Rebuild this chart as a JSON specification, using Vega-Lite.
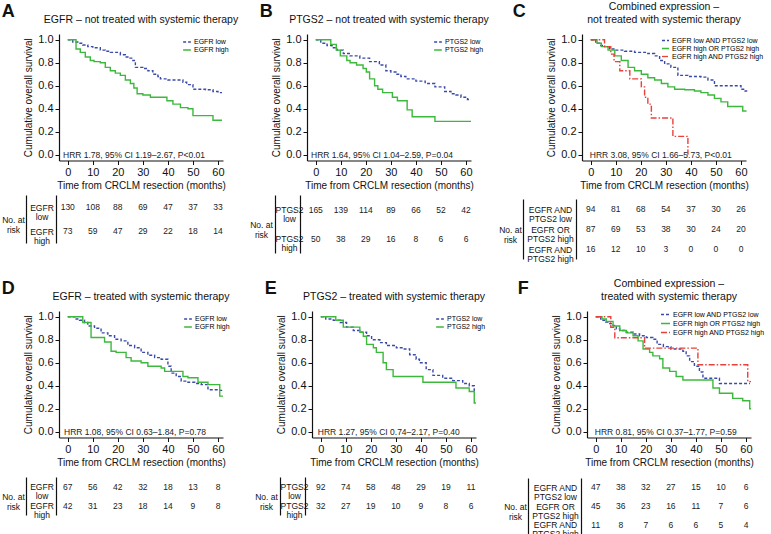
{
"$schema": "https://vega.github.io/schema/vega-lite/v6.json",
"padding": {"left": 1, "top": 1, "right": 0, "bottom": 0},
"config": {
 "font": "Liberation Sans",
 "view": {"stroke": null},
 "axis": {"domainColor": "#111", "tickColor": "#111", "labelColor": "#111", "titleColor": "#111", "grid": false, "titleFontWeight": "normal", "labelOverlap": false},
 "title": {"fontWeight": "normal", "color": "#111"},
 "text": {"color": "#222"}
},
"datasets": {
 "kmA": [
  {"t":0,"s":1,"g":"EGFR low"},{"t":2,"s":0.98,"g":"EGFR low"},{"t":4,"s":0.97,"g":"EGFR low"},{"t":6,"s":0.955,"g":"EGFR low"},{"t":8,"s":0.94,"g":"EGFR low"},{"t":10,"s":0.93,"g":"EGFR low"},{"t":13,"s":0.91,"g":"EGFR low"},{"t":15,"s":0.9,"g":"EGFR low"},{"t":17,"s":0.89,"g":"EGFR low"},{"t":21,"s":0.87,"g":"EGFR low"},{"t":23,"s":0.85,"g":"EGFR low"},{"t":24,"s":0.84,"g":"EGFR low"},{"t":26,"s":0.82,"g":"EGFR low"},{"t":27,"s":0.76,"g":"EGFR low"},{"t":30,"s":0.75,"g":"EGFR low"},{"t":32,"s":0.73,"g":"EGFR low"},{"t":34,"s":0.7,"g":"EGFR low"},{"t":36,"s":0.68,"g":"EGFR low"},{"t":37,"s":0.66,"g":"EGFR low"},{"t":40,"s":0.65,"g":"EGFR low"},{"t":46,"s":0.63,"g":"EGFR low"},{"t":47.5,"s":0.61,"g":"EGFR low"},{"t":50,"s":0.57,"g":"EGFR low"},{"t":55,"s":0.565,"g":"EGFR low"},{"t":58,"s":0.55,"g":"EGFR low"},{"t":60,"s":0.54,"g":"EGFR low"},{"t":61.6,"s":0.54,"g":"EGFR low"},
  {"t":0,"s":1,"g":"EGFR high"},{"t":3.3,"s":0.92,"g":"EGFR high"},{"t":5,"s":0.89,"g":"EGFR high"},{"t":7,"s":0.85,"g":"EGFR high"},{"t":9,"s":0.82,"g":"EGFR high"},{"t":10.5,"s":0.81,"g":"EGFR high"},{"t":13,"s":0.8,"g":"EGFR high"},{"t":15,"s":0.76,"g":"EGFR high"},{"t":17,"s":0.73,"g":"EGFR high"},{"t":19,"s":0.71,"g":"EGFR high"},{"t":21,"s":0.69,"g":"EGFR high"},{"t":23,"s":0.65,"g":"EGFR high"},{"t":25,"s":0.62,"g":"EGFR high"},{"t":26.4,"s":0.58,"g":"EGFR high"},{"t":27.7,"s":0.53,"g":"EGFR high"},{"t":30,"s":0.52,"g":"EGFR high"},{"t":33,"s":0.5,"g":"EGFR high"},{"t":39.6,"s":0.47,"g":"EGFR high"},{"t":42,"s":0.44,"g":"EGFR high"},{"t":45,"s":0.41,"g":"EGFR high"},{"t":48,"s":0.4,"g":"EGFR high"},{"t":50,"s":0.34,"g":"EGFR high"},{"t":58,"s":0.3,"g":"EGFR high"},{"t":61.6,"s":0.3,"g":"EGFR high"}
 ],
 "kmB": [
  {"t":0,"s":1,"g":"PTGS2 low"},{"t":2,"s":0.97,"g":"PTGS2 low"},{"t":4.5,"s":0.95,"g":"PTGS2 low"},{"t":6.5,"s":0.93,"g":"PTGS2 low"},{"t":8.5,"s":0.91,"g":"PTGS2 low"},{"t":11,"s":0.88,"g":"PTGS2 low"},{"t":13.7,"s":0.86,"g":"PTGS2 low"},{"t":17.6,"s":0.84,"g":"PTGS2 low"},{"t":21.5,"s":0.81,"g":"PTGS2 low"},{"t":25.4,"s":0.78,"g":"PTGS2 low"},{"t":28,"s":0.73,"g":"PTGS2 low"},{"t":30,"s":0.72,"g":"PTGS2 low"},{"t":32,"s":0.7,"g":"PTGS2 low"},{"t":34,"s":0.68,"g":"PTGS2 low"},{"t":36,"s":0.66,"g":"PTGS2 low"},{"t":40,"s":0.64,"g":"PTGS2 low"},{"t":43.7,"s":0.62,"g":"PTGS2 low"},{"t":47.6,"s":0.59,"g":"PTGS2 low"},{"t":51.5,"s":0.55,"g":"PTGS2 low"},{"t":54,"s":0.53,"g":"PTGS2 low"},{"t":56,"s":0.52,"g":"PTGS2 low"},{"t":58,"s":0.5,"g":"PTGS2 low"},{"t":60.6,"s":0.48,"g":"PTGS2 low"},{"t":62,"s":0.48,"g":"PTGS2 low"},
  {"t":0,"s":1,"g":"PTGS2 high"},{"t":6,"s":0.96,"g":"PTGS2 high"},{"t":8.2,"s":0.91,"g":"PTGS2 high"},{"t":9.8,"s":0.86,"g":"PTGS2 high"},{"t":12.4,"s":0.82,"g":"PTGS2 high"},{"t":13.7,"s":0.8,"g":"PTGS2 high"},{"t":16.3,"s":0.78,"g":"PTGS2 high"},{"t":18.9,"s":0.75,"g":"PTGS2 high"},{"t":20.2,"s":0.72,"g":"PTGS2 high"},{"t":21.5,"s":0.66,"g":"PTGS2 high"},{"t":23.5,"s":0.6,"g":"PTGS2 high"},{"t":24.8,"s":0.57,"g":"PTGS2 high"},{"t":26.7,"s":0.54,"g":"PTGS2 high"},{"t":30.6,"s":0.5,"g":"PTGS2 high"},{"t":32.6,"s":0.47,"g":"PTGS2 high"},{"t":36.5,"s":0.39,"g":"PTGS2 high"},{"t":38.5,"s":0.33,"g":"PTGS2 high"},{"t":47.6,"s":0.29,"g":"PTGS2 high"},{"t":62,"s":0.29,"g":"PTGS2 high"}
 ],
 "kmC": [
  {"t":0,"s":1,"g":"EGFR low AND PTGS2 low"},{"t":2,"s":0.97,"g":"EGFR low AND PTGS2 low"},{"t":4,"s":0.95,"g":"EGFR low AND PTGS2 low"},{"t":5.6,"s":0.94,"g":"EGFR low AND PTGS2 low"},{"t":7.5,"s":0.92,"g":"EGFR low AND PTGS2 low"},{"t":9.6,"s":0.91,"g":"EGFR low AND PTGS2 low"},{"t":13.5,"s":0.9,"g":"EGFR low AND PTGS2 low"},{"t":17.5,"s":0.89,"g":"EGFR low AND PTGS2 low"},{"t":22.8,"s":0.88,"g":"EGFR low AND PTGS2 low"},{"t":25.5,"s":0.86,"g":"EGFR low AND PTGS2 low"},{"t":27.5,"s":0.82,"g":"EGFR low AND PTGS2 low"},{"t":29.5,"s":0.79,"g":"EGFR low AND PTGS2 low"},{"t":32,"s":0.76,"g":"EGFR low AND PTGS2 low"},{"t":34.8,"s":0.69,"g":"EGFR low AND PTGS2 low"},{"t":38.8,"s":0.68,"g":"EGFR low AND PTGS2 low"},{"t":44,"s":0.675,"g":"EGFR low AND PTGS2 low"},{"t":46.8,"s":0.65,"g":"EGFR low AND PTGS2 low"},{"t":49.4,"s":0.6,"g":"EGFR low AND PTGS2 low"},{"t":58.7,"s":0.6,"g":"EGFR low AND PTGS2 low"},{"t":60,"s":0.57,"g":"EGFR low AND PTGS2 low"},{"t":61.6,"s":0.555,"g":"EGFR low AND PTGS2 low"},{"t":62.5,"s":0.555,"g":"EGFR low AND PTGS2 low"},
  {"t":0,"s":1,"g":"EGFR high OR PTGS2 high"},{"t":2.5,"s":0.97,"g":"EGFR high OR PTGS2 high"},{"t":4.2,"s":0.94,"g":"EGFR high OR PTGS2 high"},{"t":6.9,"s":0.91,"g":"EGFR high OR PTGS2 high"},{"t":9.6,"s":0.86,"g":"EGFR high OR PTGS2 high"},{"t":12.2,"s":0.82,"g":"EGFR high OR PTGS2 high"},{"t":14.9,"s":0.76,"g":"EGFR high OR PTGS2 high"},{"t":17.5,"s":0.73,"g":"EGFR high OR PTGS2 high"},{"t":20.2,"s":0.7,"g":"EGFR high OR PTGS2 high"},{"t":22.8,"s":0.67,"g":"EGFR high OR PTGS2 high"},{"t":25.5,"s":0.65,"g":"EGFR high OR PTGS2 high"},{"t":28.2,"s":0.62,"g":"EGFR high OR PTGS2 high"},{"t":30.8,"s":0.59,"g":"EGFR high OR PTGS2 high"},{"t":33.5,"s":0.57,"g":"EGFR high OR PTGS2 high"},{"t":37.5,"s":0.565,"g":"EGFR high OR PTGS2 high"},{"t":41.4,"s":0.555,"g":"EGFR high OR PTGS2 high"},{"t":44,"s":0.54,"g":"EGFR high OR PTGS2 high"},{"t":46.8,"s":0.52,"g":"EGFR high OR PTGS2 high"},{"t":49.4,"s":0.49,"g":"EGFR high OR PTGS2 high"},{"t":52,"s":0.46,"g":"EGFR high OR PTGS2 high"},{"t":54.7,"s":0.42,"g":"EGFR high OR PTGS2 high"},{"t":58.7,"s":0.42,"g":"EGFR high OR PTGS2 high"},{"t":60.7,"s":0.38,"g":"EGFR high OR PTGS2 high"},{"t":62.2,"s":0.38,"g":"EGFR high OR PTGS2 high"},
  {"t":0,"s":1,"g":"EGFR high AND PTGS2 high"},{"t":5.5,"s":0.94,"g":"EGFR high AND PTGS2 high"},{"t":8,"s":0.875,"g":"EGFR high AND PTGS2 high"},{"t":9.3,"s":0.81,"g":"EGFR high AND PTGS2 high"},{"t":11.6,"s":0.73,"g":"EGFR high AND PTGS2 high"},{"t":15.6,"s":0.66,"g":"EGFR high AND PTGS2 high"},{"t":20.2,"s":0.59,"g":"EGFR high AND PTGS2 high"},{"t":21.5,"s":0.5,"g":"EGFR high AND PTGS2 high"},{"t":22.8,"s":0.44,"g":"EGFR high AND PTGS2 high"},{"t":24.2,"s":0.32,"g":"EGFR high AND PTGS2 high"},{"t":32.8,"s":0.16,"g":"EGFR high AND PTGS2 high"},{"t":38.8,"s":0,"g":"EGFR high AND PTGS2 high"}
 ],
 "kmD": [
  {"t":0,"s":1,"g":"EGFR low"},{"t":3,"s":0.98,"g":"EGFR low"},{"t":4.7,"s":0.97,"g":"EGFR low"},{"t":6.7,"s":0.95,"g":"EGFR low"},{"t":8,"s":0.92,"g":"EGFR low"},{"t":10.7,"s":0.9,"g":"EGFR low"},{"t":13.3,"s":0.86,"g":"EGFR low"},{"t":16,"s":0.835,"g":"EGFR low"},{"t":18.7,"s":0.805,"g":"EGFR low"},{"t":21.3,"s":0.79,"g":"EGFR low"},{"t":24,"s":0.75,"g":"EGFR low"},{"t":26.7,"s":0.73,"g":"EGFR low"},{"t":29.3,"s":0.69,"g":"EGFR low"},{"t":32,"s":0.665,"g":"EGFR low"},{"t":34.7,"s":0.645,"g":"EGFR low"},{"t":37.3,"s":0.63,"g":"EGFR low"},{"t":40,"s":0.57,"g":"EGFR low"},{"t":41.3,"s":0.51,"g":"EGFR low"},{"t":43.3,"s":0.48,"g":"EGFR low"},{"t":45.3,"s":0.44,"g":"EGFR low"},{"t":48,"s":0.43,"g":"EGFR low"},{"t":50.7,"s":0.42,"g":"EGFR low"},{"t":53.3,"s":0.41,"g":"EGFR low"},{"t":56,"s":0.365,"g":"EGFR low"},{"t":60,"s":0.36,"g":"EGFR low"},{"t":62,"s":0.35,"g":"EGFR low"},
  {"t":0,"s":1,"g":"EGFR high"},{"t":6,"s":0.95,"g":"EGFR high"},{"t":9.3,"s":0.82,"g":"EGFR high"},{"t":14.7,"s":0.78,"g":"EGFR high"},{"t":17.3,"s":0.7,"g":"EGFR high"},{"t":19.3,"s":0.69,"g":"EGFR high"},{"t":23.3,"s":0.645,"g":"EGFR high"},{"t":25.3,"s":0.615,"g":"EGFR high"},{"t":29.3,"s":0.6,"g":"EGFR high"},{"t":32,"s":0.57,"g":"EGFR high"},{"t":37.3,"s":0.555,"g":"EGFR high"},{"t":38.7,"s":0.525,"g":"EGFR high"},{"t":46,"s":0.48,"g":"EGFR high"},{"t":48,"s":0.47,"g":"EGFR high"},{"t":52,"s":0.43,"g":"EGFR high"},{"t":56,"s":0.41,"g":"EGFR high"},{"t":60.7,"s":0.31,"g":"EGFR high"},{"t":62,"s":0.31,"g":"EGFR high"}
 ],
 "kmE": [
  {"t":0,"s":1,"g":"PTGS2 low"},{"t":2,"s":0.98,"g":"PTGS2 low"},{"t":5,"s":0.97,"g":"PTGS2 low"},{"t":7.7,"s":0.95,"g":"PTGS2 low"},{"t":10.3,"s":0.91,"g":"PTGS2 low"},{"t":13,"s":0.88,"g":"PTGS2 low"},{"t":15.6,"s":0.865,"g":"PTGS2 low"},{"t":18.3,"s":0.835,"g":"PTGS2 low"},{"t":20.3,"s":0.8,"g":"PTGS2 low"},{"t":23.6,"s":0.775,"g":"PTGS2 low"},{"t":26.2,"s":0.75,"g":"PTGS2 low"},{"t":30.2,"s":0.73,"g":"PTGS2 low"},{"t":32.8,"s":0.72,"g":"PTGS2 low"},{"t":35.5,"s":0.67,"g":"PTGS2 low"},{"t":38.1,"s":0.63,"g":"PTGS2 low"},{"t":39.4,"s":0.6,"g":"PTGS2 low"},{"t":42.1,"s":0.54,"g":"PTGS2 low"},{"t":44.8,"s":0.49,"g":"PTGS2 low"},{"t":48.7,"s":0.465,"g":"PTGS2 low"},{"t":52.7,"s":0.445,"g":"PTGS2 low"},{"t":56.7,"s":0.42,"g":"PTGS2 low"},{"t":59.3,"s":0.4,"g":"PTGS2 low"},{"t":61.3,"s":0.35,"g":"PTGS2 low"},{"t":62,"s":0.35,"g":"PTGS2 low"},
  {"t":0,"s":1,"g":"PTGS2 high"},{"t":6,"s":0.97,"g":"PTGS2 high"},{"t":9,"s":0.91,"g":"PTGS2 high"},{"t":15.6,"s":0.865,"g":"PTGS2 high"},{"t":17,"s":0.83,"g":"PTGS2 high"},{"t":18.3,"s":0.76,"g":"PTGS2 high"},{"t":21,"s":0.73,"g":"PTGS2 high"},{"t":22.2,"s":0.69,"g":"PTGS2 high"},{"t":24.9,"s":0.6,"g":"PTGS2 high"},{"t":26.2,"s":0.54,"g":"PTGS2 high"},{"t":28.9,"s":0.48,"g":"PTGS2 high"},{"t":40.8,"s":0.43,"g":"PTGS2 high"},{"t":54,"s":0.38,"g":"PTGS2 high"},{"t":59.3,"s":0.35,"g":"PTGS2 high"},{"t":61.3,"s":0.25,"g":"PTGS2 high"},{"t":62,"s":0.25,"g":"PTGS2 high"}
 ],
 "kmF": [
  {"t":0,"s":1,"g":"EGFR low AND PTGS2 low"},{"t":2,"s":0.97,"g":"EGFR low AND PTGS2 low"},{"t":4,"s":0.955,"g":"EGFR low AND PTGS2 low"},{"t":5.6,"s":0.94,"g":"EGFR low AND PTGS2 low"},{"t":6.9,"s":0.925,"g":"EGFR low AND PTGS2 low"},{"t":8.2,"s":0.895,"g":"EGFR low AND PTGS2 low"},{"t":9.6,"s":0.88,"g":"EGFR low AND PTGS2 low"},{"t":12.2,"s":0.865,"g":"EGFR low AND PTGS2 low"},{"t":14.9,"s":0.85,"g":"EGFR low AND PTGS2 low"},{"t":17.5,"s":0.835,"g":"EGFR low AND PTGS2 low"},{"t":20.2,"s":0.82,"g":"EGFR low AND PTGS2 low"},{"t":22.8,"s":0.805,"g":"EGFR low AND PTGS2 low"},{"t":24.5,"s":0.76,"g":"EGFR low AND PTGS2 low"},{"t":27,"s":0.74,"g":"EGFR low AND PTGS2 low"},{"t":30,"s":0.72,"g":"EGFR low AND PTGS2 low"},{"t":34.8,"s":0.7,"g":"EGFR low AND PTGS2 low"},{"t":36.1,"s":0.66,"g":"EGFR low AND PTGS2 low"},{"t":37.5,"s":0.61,"g":"EGFR low AND PTGS2 low"},{"t":39.4,"s":0.57,"g":"EGFR low AND PTGS2 low"},{"t":41.4,"s":0.52,"g":"EGFR low AND PTGS2 low"},{"t":42.8,"s":0.465,"g":"EGFR low AND PTGS2 low"},{"t":49.4,"s":0.42,"g":"EGFR low AND PTGS2 low"},{"t":61.6,"s":0.42,"g":"EGFR low AND PTGS2 low"},
  {"t":0,"s":1,"g":"EGFR high OR PTGS2 high"},{"t":2.5,"s":0.98,"g":"EGFR high OR PTGS2 high"},{"t":4.2,"s":0.96,"g":"EGFR high OR PTGS2 high"},{"t":6.9,"s":0.92,"g":"EGFR high OR PTGS2 high"},{"t":9.6,"s":0.88,"g":"EGFR high OR PTGS2 high"},{"t":12.2,"s":0.86,"g":"EGFR high OR PTGS2 high"},{"t":14.9,"s":0.835,"g":"EGFR high OR PTGS2 high"},{"t":16.9,"s":0.79,"g":"EGFR high OR PTGS2 high"},{"t":18.9,"s":0.72,"g":"EGFR high OR PTGS2 high"},{"t":21.5,"s":0.69,"g":"EGFR high OR PTGS2 high"},{"t":22.8,"s":0.66,"g":"EGFR high OR PTGS2 high"},{"t":25.5,"s":0.635,"g":"EGFR high OR PTGS2 high"},{"t":26.8,"s":0.555,"g":"EGFR high OR PTGS2 high"},{"t":29.5,"s":0.525,"g":"EGFR high OR PTGS2 high"},{"t":32.1,"s":0.48,"g":"EGFR high OR PTGS2 high"},{"t":34.8,"s":0.45,"g":"EGFR high OR PTGS2 high"},{"t":46.8,"s":0.38,"g":"EGFR high OR PTGS2 high"},{"t":49.4,"s":0.335,"g":"EGFR high OR PTGS2 high"},{"t":54.7,"s":0.29,"g":"EGFR high OR PTGS2 high"},{"t":58.7,"s":0.27,"g":"EGFR high OR PTGS2 high"},{"t":61.5,"s":0.2,"g":"EGFR high OR PTGS2 high"},{"t":62,"s":0.2,"g":"EGFR high OR PTGS2 high"},
  {"t":0,"s":1,"g":"EGFR high AND PTGS2 high"},{"t":6,"s":0.909,"g":"EGFR high AND PTGS2 high"},{"t":7.6,"s":0.818,"g":"EGFR high AND PTGS2 high"},{"t":19.5,"s":0.727,"g":"EGFR high AND PTGS2 high"},{"t":40.8,"s":0.582,"g":"EGFR high AND PTGS2 high"},{"t":60.7,"s":0.436,"g":"EGFR high AND PTGS2 high"},{"t":62,"s":0.436,"g":"EGFR high AND PTGS2 high"}
 ],
 "riskA": [
  {"t":0,"n":130,"g":"EGFR low"},{"t":10,"n":108,"g":"EGFR low"},{"t":20,"n":88,"g":"EGFR low"},{"t":30,"n":69,"g":"EGFR low"},{"t":40,"n":47,"g":"EGFR low"},{"t":50,"n":37,"g":"EGFR low"},{"t":60,"n":33,"g":"EGFR low"},
  {"t":0,"n":73,"g":"EGFR high"},{"t":10,"n":59,"g":"EGFR high"},{"t":20,"n":47,"g":"EGFR high"},{"t":30,"n":29,"g":"EGFR high"},{"t":40,"n":22,"g":"EGFR high"},{"t":50,"n":18,"g":"EGFR high"},{"t":60,"n":14,"g":"EGFR high"}
 ],
 "riskB": [
  {"t":0,"n":165,"g":"PTGS2 low"},{"t":10,"n":139,"g":"PTGS2 low"},{"t":20,"n":114,"g":"PTGS2 low"},{"t":30,"n":89,"g":"PTGS2 low"},{"t":40,"n":66,"g":"PTGS2 low"},{"t":50,"n":52,"g":"PTGS2 low"},{"t":60,"n":42,"g":"PTGS2 low"},
  {"t":0,"n":50,"g":"PTGS2 high"},{"t":10,"n":38,"g":"PTGS2 high"},{"t":20,"n":29,"g":"PTGS2 high"},{"t":30,"n":16,"g":"PTGS2 high"},{"t":40,"n":8,"g":"PTGS2 high"},{"t":50,"n":6,"g":"PTGS2 high"},{"t":60,"n":6,"g":"PTGS2 high"}
 ],
 "riskC": [
  {"t":0,"n":94,"g":"EGFR AND PTGS2 low"},{"t":10,"n":81,"g":"EGFR AND PTGS2 low"},{"t":20,"n":68,"g":"EGFR AND PTGS2 low"},{"t":30,"n":54,"g":"EGFR AND PTGS2 low"},{"t":40,"n":37,"g":"EGFR AND PTGS2 low"},{"t":50,"n":30,"g":"EGFR AND PTGS2 low"},{"t":60,"n":26,"g":"EGFR AND PTGS2 low"},
  {"t":0,"n":87,"g":"EGFR OR PTGS2 high"},{"t":10,"n":69,"g":"EGFR OR PTGS2 high"},{"t":20,"n":53,"g":"EGFR OR PTGS2 high"},{"t":30,"n":38,"g":"EGFR OR PTGS2 high"},{"t":40,"n":30,"g":"EGFR OR PTGS2 high"},{"t":50,"n":24,"g":"EGFR OR PTGS2 high"},{"t":60,"n":20,"g":"EGFR OR PTGS2 high"},
  {"t":0,"n":16,"g":"EGFR AND PTGS2 high"},{"t":10,"n":12,"g":"EGFR AND PTGS2 high"},{"t":20,"n":10,"g":"EGFR AND PTGS2 high"},{"t":30,"n":3,"g":"EGFR AND PTGS2 high"},{"t":40,"n":0,"g":"EGFR AND PTGS2 high"},{"t":50,"n":0,"g":"EGFR AND PTGS2 high"},{"t":60,"n":0,"g":"EGFR AND PTGS2 high"}
 ],
 "riskD": [
  {"t":0,"n":67,"g":"EGFR low"},{"t":10,"n":56,"g":"EGFR low"},{"t":20,"n":42,"g":"EGFR low"},{"t":30,"n":32,"g":"EGFR low"},{"t":40,"n":18,"g":"EGFR low"},{"t":50,"n":13,"g":"EGFR low"},{"t":60,"n":8,"g":"EGFR low"},
  {"t":0,"n":42,"g":"EGFR high"},{"t":10,"n":31,"g":"EGFR high"},{"t":20,"n":23,"g":"EGFR high"},{"t":30,"n":18,"g":"EGFR high"},{"t":40,"n":14,"g":"EGFR high"},{"t":50,"n":9,"g":"EGFR high"},{"t":60,"n":8,"g":"EGFR high"}
 ],
 "riskE": [
  {"t":0,"n":92,"g":"PTGS2 low"},{"t":10,"n":74,"g":"PTGS2 low"},{"t":20,"n":58,"g":"PTGS2 low"},{"t":30,"n":48,"g":"PTGS2 low"},{"t":40,"n":29,"g":"PTGS2 low"},{"t":50,"n":19,"g":"PTGS2 low"},{"t":60,"n":11,"g":"PTGS2 low"},
  {"t":0,"n":32,"g":"PTGS2 high"},{"t":10,"n":27,"g":"PTGS2 high"},{"t":20,"n":19,"g":"PTGS2 high"},{"t":30,"n":10,"g":"PTGS2 high"},{"t":40,"n":9,"g":"PTGS2 high"},{"t":50,"n":8,"g":"PTGS2 high"},{"t":60,"n":6,"g":"PTGS2 high"}
 ],
 "riskF": [
  {"t":0,"n":47,"g":"EGFR AND PTGS2 low"},{"t":10,"n":38,"g":"EGFR AND PTGS2 low"},{"t":20,"n":32,"g":"EGFR AND PTGS2 low"},{"t":30,"n":27,"g":"EGFR AND PTGS2 low"},{"t":40,"n":15,"g":"EGFR AND PTGS2 low"},{"t":50,"n":10,"g":"EGFR AND PTGS2 low"},{"t":60,"n":6,"g":"EGFR AND PTGS2 low"},
  {"t":0,"n":45,"g":"EGFR OR PTGS2 high"},{"t":10,"n":36,"g":"EGFR OR PTGS2 high"},{"t":20,"n":23,"g":"EGFR OR PTGS2 high"},{"t":30,"n":16,"g":"EGFR OR PTGS2 high"},{"t":40,"n":11,"g":"EGFR OR PTGS2 high"},{"t":50,"n":7,"g":"EGFR OR PTGS2 high"},{"t":60,"n":6,"g":"EGFR OR PTGS2 high"},
  {"t":0,"n":11,"g":"EGFR AND PTGS2 high"},{"t":10,"n":8,"g":"EGFR AND PTGS2 high"},{"t":20,"n":7,"g":"EGFR AND PTGS2 high"},{"t":30,"n":6,"g":"EGFR AND PTGS2 high"},{"t":40,"n":6,"g":"EGFR AND PTGS2 high"},{"t":50,"n":5,"g":"EGFR AND PTGS2 high"},{"t":60,"n":4,"g":"EGFR AND PTGS2 high"}
 ]
},
"spacing": 15,
"resolve": {"scale": {"color": "independent", "strokeDash": "independent"}},
"vconcat": [
 {"hconcat": [
  {"title": {"text": "A", "anchor": "start", "fontSize": 18, "fontWeight": "bold", "offset": -19, "frame": "bounds"},
   "bounds": "flush", "spacing": 34,
   "vconcat": [
    {"width": 164, "height": 126.5,
     "title": {"text": ["", "EGFR – not treated with systemic therapy"], "fontSize": 10.5, "lineHeight": 13, "offset": 8.5, "anchor": "middle"},
     "layer": [
      {"data": {"name": "kmA"}, "mark": {"type": "line", "interpolate": "step-after", "strokeWidth": 1.4},
       "encoding": {
        "x": {"field": "t", "type": "quantitative", "scale": {"domain": [-3.5, 62], "nice": false, "zero": false}, "axis": {"values": [0,10,20,30,40,50,60], "tickCount": 50, "labelOverlap": false, "title": "Time from CRCLM resection (months)", "labelFontSize": 11, "titleFontSize": 10, "tickSize": 4, "labelPadding": 2, "titlePadding": 3, "domainWidth": 1.2}},
        "y": {"field": "s", "type": "quantitative", "scale": {"domain": [-0.05, 1.05], "nice": false, "zero": false}, "axis": {"values": [0,0.2,0.4,0.6,0.8,1], "tickCount": 50, "labelOverlap": false, "format": ".1f", "title": "Cumulative overall survival", "labelFontSize": 11, "titleFontSize": 10, "tickSize": 4, "labelPadding": 2, "titlePadding": 4, "domainWidth": 1.2}},
        "color": {"field": "g", "type": "nominal", "scale": {"domain": ["EGFR low", "EGFR high"], "range": ["#3a4aa8", "#3cb93c"]}, "legend": {"title": null, "orient": "none", "legendX": 123, "legendY": 3, "symbolType": "stroke", "symbolSize": 60, "symbolStrokeWidth": 1.3, "labelFontSize": 7, "labelOffset": 2, "rowPadding": 0, "padding": 0}},
        "strokeDash": {"field": "g", "type": "nominal", "scale": {"domain": ["EGFR low", "EGFR high"], "range": [[3,2],[1,0]]}, "legend": {"title": null, "orient": "none", "legendX": 123, "legendY": 3, "symbolType": "stroke", "symbolSize": 60, "symbolStrokeWidth": 1.3, "labelFontSize": 7, "labelOffset": 2, "rowPadding": 0, "padding": 0}}
       }},
      {"data": {"values": [{"label": "HRR 1.78, 95%  CI 1.19–2.67, P<0.01"}]}, "mark": {"type": "text", "align": "left", "baseline": "middle", "fontSize": 8.5},
       "encoding": {"x": {"datum": -1.9, "type": "quantitative"}, "y": {"datum": 0, "type": "quantitative"}, "text": {"field": "label"}}}
     ]},
    {"width": 164, "height": 48, "data": {"name": "riskA"},
     "layer": [
      {"mark": {"type": "text", "fontSize": 8.5},
       "encoding": {
        "x": {"field": "t", "type": "quantitative", "scale": {"domain": [-3.5, 62], "nice": false, "zero": false}, "axis": null},
        "y": {"field": "g", "type": "nominal", "sort": ["EGFR low", "EGFR high"], "scale": {"paddingInner": 0, "paddingOuter": 0}, "axis": {"orient": "left", "title": null, "labelExpr": "split(datum.label, ' ')", "labelAlign": "center", "labelBaseline": "middle", "labelLineHeight": 9, "labelPadding": 14.5, "ticks": false, "tickSize": 0, "offset": 3, "domain": true, "domainWidth": 1.2, "labelFontSize": 8.5}},
        "text": {"field": "n"}}},
      {"mark": {"type": "text", "opacity": 0},
       "encoding": {
        "x": {"field": "t", "type": "quantitative"},
        "y": {"field": "g", "type": "nominal", "sort": ["EGFR low", "EGFR high"], "axis": {"orient": "left", "title": ["No. at", "risk"], "labels": false, "ticks": false, "tickSize": 0, "offset": 33, "domain": true, "domainWidth": 1.2, "titleAngle": 0, "titleAlign": "center", "titleBaseline": "middle", "titlePadding": 3, "titleFontSize": 8.5, "titleLineHeight": 10}},
        "text": {"field": "n"}}}
     ],
     "resolve": {"axis": {"y": "independent"}}}
   ]},
  {"hconcat": [
   {"title": {"text": "B", "anchor": "start", "fontSize": 18, "fontWeight": "bold", "offset": -19, "frame": "bounds", "dx": 10},
    "bounds": "flush", "spacing": 34,
    "vconcat": [
     {"width": 164, "height": 126.5,
      "title": {"text": ["", "PTGS2 – not treated with systemic therapy"], "fontSize": 10.5, "lineHeight": 13, "offset": 8.5, "anchor": "middle"},
      "layer": [
       {"data": {"name": "kmB"}, "mark": {"type": "line", "interpolate": "step-after", "strokeWidth": 1.4},
        "encoding": {
         "x": {"field": "t", "type": "quantitative", "scale": {"domain": [-3.5, 62], "nice": false, "zero": false}, "axis": {"values": [0,10,20,30,40,50,60], "tickCount": 50, "labelOverlap": false, "title": "Time from CRCLM resection (months)", "labelFontSize": 11, "titleFontSize": 10, "tickSize": 4, "labelPadding": 2, "titlePadding": 3, "domainWidth": 1.2}},
         "y": {"field": "s", "type": "quantitative", "scale": {"domain": [-0.05, 1.05], "nice": false, "zero": false}, "axis": {"values": [0,0.2,0.4,0.6,0.8,1], "tickCount": 50, "labelOverlap": false, "format": ".1f", "title": "Cumulative overall survival", "labelFontSize": 11, "titleFontSize": 10, "tickSize": 4, "labelPadding": 2, "titlePadding": 4, "domainWidth": 1.2}},
         "color": {"field": "g", "type": "nominal", "scale": {"domain": ["PTGS2 low", "PTGS2 high"], "range": ["#3a4aa8", "#3cb93c"]}, "legend": {"title": null, "orient": "none", "legendX": 126, "legendY": 3, "symbolType": "stroke", "symbolSize": 60, "symbolStrokeWidth": 1.3, "labelFontSize": 7, "labelOffset": 2, "rowPadding": 0, "padding": 0}},
         "strokeDash": {"field": "g", "type": "nominal", "scale": {"domain": ["PTGS2 low", "PTGS2 high"], "range": [[3,2],[1,0]]}, "legend": {"title": null, "orient": "none", "legendX": 126, "legendY": 3, "symbolType": "stroke", "symbolSize": 60, "symbolStrokeWidth": 1.3, "labelFontSize": 7, "labelOffset": 2, "rowPadding": 0, "padding": 0}}
        }},
       {"data": {"values": [{"label": "HRR 1.64, 95% CI 1.04–2.59, P=0.04"}]}, "mark": {"type": "text", "align": "left", "baseline": "middle", "fontSize": 8.5},
        "encoding": {"x": {"datum": -1.9, "type": "quantitative"}, "y": {"datum": 0, "type": "quantitative"}, "text": {"field": "label"}}}
      ]},
     {"width": 164, "height": 58, "data": {"name": "riskB"},
      "layer": [
       {"mark": {"type": "text", "fontSize": 8.5},
        "encoding": {
         "x": {"field": "t", "type": "quantitative", "scale": {"domain": [-3.5, 62], "nice": false, "zero": false}, "axis": null},
         "y": {"field": "g", "type": "nominal", "sort": ["PTGS2 low", "PTGS2 high"], "scale": {"paddingInner": 0, "paddingOuter": 0}, "axis": {"orient": "left", "title": null, "labelExpr": "split(datum.label, ' ')", "labelAlign": "center", "labelBaseline": "middle", "labelLineHeight": 9, "labelPadding": 11, "ticks": false, "tickSize": 0, "offset": 7, "domain": true, "domainWidth": 1.2, "labelFontSize": 8.5}},
         "text": {"field": "n"}}},
       {"mark": {"type": "text", "opacity": 0},
        "encoding": {
         "x": {"field": "t", "type": "quantitative"},
         "y": {"field": "g", "type": "nominal", "sort": ["PTGS2 low", "PTGS2 high"], "axis": {"orient": "left", "title": ["No. at", "risk"], "labels": false, "ticks": false, "tickSize": 0, "offset": 32, "domain": true, "domainWidth": 1.2, "titleAngle": 0, "titleAlign": "center", "titleBaseline": "middle", "titlePadding": 4, "titleFontSize": 8.5, "titleLineHeight": 10}},
         "text": {"field": "n"}}}
      ],
      "resolve": {"axis": {"y": "independent"}}}
    ]},
   {"title": {"text": "C", "anchor": "start", "fontSize": 18, "fontWeight": "bold", "offset": -19, "frame": "bounds", "dx": 14},
    "bounds": "flush", "spacing": 38,
    "vconcat": [
     {"width": 164, "height": 126.5,
      "title": {"text": ["Combined expression –", "not treated with systemic therapy"], "fontSize": 10.5, "lineHeight": 13, "offset": 8.5, "anchor": "middle"},
      "layer": [
       {"data": {"name": "kmC"}, "mark": {"type": "line", "interpolate": "step-after", "strokeWidth": 1.4},
        "encoding": {
         "x": {"field": "t", "type": "quantitative", "scale": {"domain": [-3.5, 62], "nice": false, "zero": false}, "axis": {"values": [0,10,20,30,40,50,60], "tickCount": 50, "labelOverlap": false, "title": "Time from CRCLM resection (months)", "labelFontSize": 11, "titleFontSize": 10, "tickSize": 4, "labelPadding": 2, "titlePadding": 3, "domainWidth": 1.2}},
         "y": {"field": "s", "type": "quantitative", "scale": {"domain": [-0.05, 1.05], "nice": false, "zero": false}, "axis": {"values": [0,0.2,0.4,0.6,0.8,1], "tickCount": 50, "labelOverlap": false, "format": ".1f", "title": "Cumulative overall survival", "labelFontSize": 11, "titleFontSize": 10, "tickSize": 4, "labelPadding": 2, "titlePadding": 4, "domainWidth": 1.2}},
         "color": {"field": "g", "type": "nominal", "scale": {"domain": ["EGFR low AND PTGS2 low", "EGFR high OR PTGS2 high", "EGFR high AND PTGS2 high"], "range": ["#3a4aa8", "#3cb93c", "#e8413a"]}, "legend": {"title": null, "orient": "none", "legendX": 79, "legendY": 2, "symbolType": "stroke", "symbolSize": 49, "symbolStrokeWidth": 1.3, "labelFontSize": 7, "labelOffset": 2, "rowPadding": 0, "padding": 0}},
         "strokeDash": {"field": "g", "type": "nominal", "scale": {"domain": ["EGFR low AND PTGS2 low", "EGFR high OR PTGS2 high", "EGFR high AND PTGS2 high"], "range": [[3,2],[1,0],[6,2,1.5,2]]}, "legend": {"title": null, "orient": "none", "legendX": 79, "legendY": 2, "symbolType": "stroke", "symbolSize": 49, "symbolStrokeWidth": 1.3, "labelFontSize": 7, "labelOffset": 2, "rowPadding": 0, "padding": 0}}
        }},
       {"data": {"values": [{"label": "HRR 3.08, 95% CI 1.66–5.73, P<0.01"}]}, "mark": {"type": "text", "align": "left", "baseline": "middle", "fontSize": 8.5},
        "encoding": {"x": {"datum": -0.4, "type": "quantitative"}, "y": {"datum": 0, "type": "quantitative"}, "text": {"field": "label"}}}
      ]},
     {"width": 164, "height": 60, "data": {"name": "riskC"},
      "layer": [
       {"mark": {"type": "text", "fontSize": 8.5},
        "encoding": {
         "x": {"field": "t", "type": "quantitative", "scale": {"domain": [-3.5, 62], "nice": false, "zero": false}, "axis": null},
         "y": {"field": "g", "type": "nominal", "sort": ["EGFR AND PTGS2 low", "EGFR OR PTGS2 high", "EGFR AND PTGS2 high"], "scale": {"paddingInner": 0, "paddingOuter": 0}, "axis": {"orient": "left", "title": null, "labelExpr": "[substring(datum.label, 0, indexof(datum.label, ' PTGS2')), substring(datum.label, indexof(datum.label, 'PTGS2'))]", "labelAlign": "center", "labelBaseline": "middle", "labelLineHeight": 9, "labelPadding": 26, "ticks": false, "tickSize": 0, "offset": 6, "domain": true, "domainWidth": 1.2, "labelFontSize": 8.5}},
         "text": {"field": "n"}}},
       {"mark": {"type": "text", "opacity": 0},
        "encoding": {
         "x": {"field": "t", "type": "quantitative"},
         "y": {"field": "g", "type": "nominal", "sort": ["EGFR AND PTGS2 low", "EGFR OR PTGS2 high", "EGFR AND PTGS2 high"], "axis": {"orient": "left", "title": ["No. at", "risk"], "labels": false, "ticks": false, "tickSize": 0, "offset": 59, "domain": true, "domainWidth": 1.2, "titleAngle": 0, "titleAlign": "center", "titleBaseline": "middle", "titlePadding": 3, "titleFontSize": 8.5, "titleLineHeight": 10}},
         "text": {"field": "n"}}}
      ],
      "resolve": {"axis": {"y": "independent"}}}
    ]}
  ], "spacing": 9, "resolve": {"scale": {"color": "independent", "strokeDash": "independent"}}}
 ], "spacing": 10, "resolve": {"scale": {"color": "independent", "strokeDash": "independent"}}},
 {"hconcat": [
  {"title": {"text": "D", "anchor": "start", "fontSize": 18, "fontWeight": "bold", "offset": -19, "frame": "bounds"},
   "bounds": "flush", "spacing": 39,
   "vconcat": [
    {"width": 164, "height": 126.5,
     "title": {"text": ["", "EGFR – treated with systemic therapy"], "fontSize": 10.5, "lineHeight": 13, "offset": 8.5, "anchor": "middle"},
     "layer": [
      {"data": {"name": "kmD"}, "mark": {"type": "line", "interpolate": "step-after", "strokeWidth": 1.4},
       "encoding": {
        "x": {"field": "t", "type": "quantitative", "scale": {"domain": [-3.5, 62], "nice": false, "zero": false}, "axis": {"values": [0,10,20,30,40,50,60], "tickCount": 50, "labelOverlap": false, "title": "Time from CRCLM resection (months)", "labelFontSize": 11, "titleFontSize": 10, "tickSize": 4, "labelPadding": 2, "titlePadding": 3, "domainWidth": 1.2}},
        "y": {"field": "s", "type": "quantitative", "scale": {"domain": [-0.05, 1.05], "nice": false, "zero": false}, "axis": {"values": [0,0.2,0.4,0.6,0.8,1], "tickCount": 50, "labelOverlap": false, "format": ".1f", "title": "Cumulative overall survival", "labelFontSize": 11, "titleFontSize": 10, "tickSize": 4, "labelPadding": 2, "titlePadding": 4, "domainWidth": 1.2}},
        "color": {"field": "g", "type": "nominal", "scale": {"domain": ["EGFR low", "EGFR high"], "range": ["#3a4aa8", "#3cb93c"]}, "legend": {"title": null, "orient": "none", "legendX": 124, "legendY": 3, "symbolType": "stroke", "symbolSize": 60, "symbolStrokeWidth": 1.3, "labelFontSize": 7, "labelOffset": 2, "rowPadding": 0, "padding": 0}},
        "strokeDash": {"field": "g", "type": "nominal", "scale": {"domain": ["EGFR low", "EGFR high"], "range": [[3,2],[1,0]]}, "legend": {"title": null, "orient": "none", "legendX": 124, "legendY": 3, "symbolType": "stroke", "symbolSize": 60, "symbolStrokeWidth": 1.3, "labelFontSize": 7, "labelOffset": 2, "rowPadding": 0, "padding": 0}}
       }},
      {"data": {"values": [{"label": "HRR 1.08, 95% CI 0.63–1.84, P=0.78"}]}, "mark": {"type": "text", "align": "left", "baseline": "middle", "fontSize": 8.5},
       "encoding": {"x": {"datum": -1.5, "type": "quantitative"}, "y": {"datum": 0, "type": "quantitative"}, "text": {"field": "label"}}}
     ]},
    {"width": 164, "height": 38, "data": {"name": "riskD"},
     "layer": [
      {"mark": {"type": "text", "fontSize": 8.5},
       "encoding": {
        "x": {"field": "t", "type": "quantitative", "scale": {"domain": [-3.5, 62], "nice": false, "zero": false}, "axis": null},
        "y": {"field": "g", "type": "nominal", "sort": ["EGFR low", "EGFR high"], "scale": {"paddingInner": 0, "paddingOuter": 0}, "axis": {"orient": "left", "title": null, "labelExpr": "split(datum.label, ' ')", "labelAlign": "center", "labelBaseline": "middle", "labelLineHeight": 9, "labelPadding": 14.5, "ticks": false, "tickSize": 0, "offset": 3, "domain": true, "domainWidth": 1.2, "labelFontSize": 8.5}},
        "text": {"field": "n"}}},
      {"mark": {"type": "text", "opacity": 0},
       "encoding": {
        "x": {"field": "t", "type": "quantitative"},
        "y": {"field": "g", "type": "nominal", "sort": ["EGFR low", "EGFR high"], "axis": {"orient": "left", "title": ["No. at", "risk"], "labels": false, "ticks": false, "tickSize": 0, "offset": 33, "domain": true, "domainWidth": 1.2, "titleAngle": 0, "titleAlign": "center", "titleBaseline": "middle", "titlePadding": 3, "titleFontSize": 8.5, "titleLineHeight": 10}},
        "text": {"field": "n"}}}
     ],
     "resolve": {"axis": {"y": "independent"}}}
   ]},
  {"hconcat": [
   {"title": {"text": "E", "anchor": "start", "fontSize": 18, "fontWeight": "bold", "offset": -19, "frame": "bounds", "dx": 10},
    "bounds": "flush", "spacing": 39,
    "vconcat": [
     {"width": 164, "height": 126.5,
      "title": {"text": ["", "PTGS2 – treated with systemic therapy"], "fontSize": 10.5, "lineHeight": 13, "offset": 8.5, "anchor": "middle"},
      "layer": [
       {"data": {"name": "kmE"}, "mark": {"type": "line", "interpolate": "step-after", "strokeWidth": 1.4},
        "encoding": {
         "x": {"field": "t", "type": "quantitative", "scale": {"domain": [-3.5, 62], "nice": false, "zero": false}, "axis": {"values": [0,10,20,30,40,50,60], "tickCount": 50, "labelOverlap": false, "title": "Time from CRCLM resection (months)", "labelFontSize": 11, "titleFontSize": 10, "tickSize": 4, "labelPadding": 2, "titlePadding": 3, "domainWidth": 1.2}},
         "y": {"field": "s", "type": "quantitative", "scale": {"domain": [-0.05, 1.05], "nice": false, "zero": false}, "axis": {"values": [0,0.2,0.4,0.6,0.8,1], "tickCount": 50, "labelOverlap": false, "format": ".1f", "title": "Cumulative overall survival", "labelFontSize": 11, "titleFontSize": 10, "tickSize": 4, "labelPadding": 2, "titlePadding": 4, "domainWidth": 1.2}},
         "color": {"field": "g", "type": "nominal", "scale": {"domain": ["PTGS2 low", "PTGS2 high"], "range": ["#3a4aa8", "#3cb93c"]}, "legend": {"title": null, "orient": "none", "legendX": 123, "legendY": 3, "symbolType": "stroke", "symbolSize": 60, "symbolStrokeWidth": 1.3, "labelFontSize": 7, "labelOffset": 2, "rowPadding": 0, "padding": 0}},
         "strokeDash": {"field": "g", "type": "nominal", "scale": {"domain": ["PTGS2 low", "PTGS2 high"], "range": [[3,2],[1,0]]}, "legend": {"title": null, "orient": "none", "legendX": 123, "legendY": 3, "symbolType": "stroke", "symbolSize": 60, "symbolStrokeWidth": 1.3, "labelFontSize": 7, "labelOffset": 2, "rowPadding": 0, "padding": 0}}
        }},
       {"data": {"values": [{"label": "HRR 1.27, 95% CI 0.74–2.17, P=0.40"}]}, "mark": {"type": "text", "align": "left", "baseline": "middle", "fontSize": 8.5},
        "encoding": {"x": {"datum": -1.2, "type": "quantitative"}, "y": {"datum": 0, "type": "quantitative"}, "text": {"field": "label"}}}
      ]},
     {"width": 164, "height": 38, "data": {"name": "riskE"},
      "layer": [
       {"mark": {"type": "text", "fontSize": 8.5},
        "encoding": {
         "x": {"field": "t", "type": "quantitative", "scale": {"domain": [-3.5, 62], "nice": false, "zero": false}, "axis": null},
         "y": {"field": "g", "type": "nominal", "sort": ["PTGS2 low", "PTGS2 high"], "scale": {"paddingInner": 0, "paddingOuter": 0}, "axis": {"orient": "left", "title": null, "labelExpr": "split(datum.label, ' ')", "labelAlign": "center", "labelBaseline": "middle", "labelLineHeight": 9, "labelPadding": 11, "ticks": false, "tickSize": 0, "offset": 7, "domain": true, "domainWidth": 1.2, "labelFontSize": 8.5}},
         "text": {"field": "n"}}},
       {"mark": {"type": "text", "opacity": 0},
        "encoding": {
         "x": {"field": "t", "type": "quantitative"},
         "y": {"field": "g", "type": "nominal", "sort": ["PTGS2 low", "PTGS2 high"], "axis": {"orient": "left", "title": ["No. at", "risk"], "labels": false, "ticks": false, "tickSize": 0, "offset": 32, "domain": true, "domainWidth": 1.2, "titleAngle": 0, "titleAlign": "center", "titleBaseline": "middle", "titlePadding": 4, "titleFontSize": 8.5, "titleLineHeight": 10}},
         "text": {"field": "n"}}}
      ],
      "resolve": {"axis": {"y": "independent"}}}
    ]},
   {"title": {"text": "F", "anchor": "start", "fontSize": 18, "fontWeight": "bold", "offset": -19, "frame": "bounds", "dx": 14},
    "bounds": "flush", "spacing": 40,
    "vconcat": [
     {"width": 164, "height": 126.5,
      "title": {"text": ["Combined expression –", "treated with systemic therapy"], "fontSize": 10.5, "lineHeight": 13, "offset": 8.5, "anchor": "middle"},
      "layer": [
       {"data": {"name": "kmF"}, "mark": {"type": "line", "interpolate": "step-after", "strokeWidth": 1.4},
        "encoding": {
         "x": {"field": "t", "type": "quantitative", "scale": {"domain": [-3.5, 62], "nice": false, "zero": false}, "axis": {"values": [0,10,20,30,40,50,60], "tickCount": 50, "labelOverlap": false, "title": "Time from CRCLM resection (months)", "labelFontSize": 11, "titleFontSize": 10, "tickSize": 4, "labelPadding": 2, "titlePadding": 3, "domainWidth": 1.2}},
         "y": {"field": "s", "type": "quantitative", "scale": {"domain": [-0.05, 1.05], "nice": false, "zero": false}, "axis": {"values": [0,0.2,0.4,0.6,0.8,1], "tickCount": 50, "labelOverlap": false, "format": ".1f", "title": "Cumulative overall survival", "labelFontSize": 11, "titleFontSize": 10, "tickSize": 4, "labelPadding": 2, "titlePadding": 4, "domainWidth": 1.2}},
         "color": {"field": "g", "type": "nominal", "scale": {"domain": ["EGFR low AND PTGS2 low", "EGFR high OR PTGS2 high", "EGFR high AND PTGS2 high"], "range": ["#3a4aa8", "#3cb93c", "#e8413a"]}, "legend": {"title": null, "orient": "none", "legendX": 73, "legendY": -2, "symbolType": "stroke", "symbolSize": 81, "symbolStrokeWidth": 1.3, "labelFontSize": 7, "labelOffset": 2, "rowPadding": 0, "padding": 0}},
         "strokeDash": {"field": "g", "type": "nominal", "scale": {"domain": ["EGFR low AND PTGS2 low", "EGFR high OR PTGS2 high", "EGFR high AND PTGS2 high"], "range": [[3,2],[1,0],[6,2,1.5,2]]}, "legend": {"title": null, "orient": "none", "legendX": 73, "legendY": -2, "symbolType": "stroke", "symbolSize": 81, "symbolStrokeWidth": 1.3, "labelFontSize": 7, "labelOffset": 2, "rowPadding": 0, "padding": 0}}
        }},
       {"data": {"values": [{"label": "HRR 0.81, 95% CI 0.37–1.77, P=0.59"}]}, "mark": {"type": "text", "align": "left", "baseline": "middle", "fontSize": 8.5},
        "encoding": {"x": {"datum": -0.4, "type": "quantitative"}, "y": {"datum": 0, "type": "quantitative"}, "text": {"field": "label"}}}
      ]},
     {"width": 164, "height": 56, "data": {"name": "riskF"},
      "layer": [
       {"mark": {"type": "text", "fontSize": 8.5},
        "encoding": {
         "x": {"field": "t", "type": "quantitative", "scale": {"domain": [-3.5, 62], "nice": false, "zero": false}, "axis": null},
         "y": {"field": "g", "type": "nominal", "sort": ["EGFR AND PTGS2 low", "EGFR OR PTGS2 high", "EGFR AND PTGS2 high"], "scale": {"paddingInner": 0, "paddingOuter": 0}, "axis": {"orient": "left", "title": null, "labelExpr": "[substring(datum.label, 0, indexof(datum.label, ' PTGS2')), substring(datum.label, indexof(datum.label, 'PTGS2'))]", "labelAlign": "center", "labelBaseline": "middle", "labelLineHeight": 9, "labelPadding": 26, "ticks": false, "tickSize": 0, "offset": 6, "domain": true, "domainWidth": 1.2, "labelFontSize": 8.5}},
         "text": {"field": "n"}}},
       {"mark": {"type": "text", "opacity": 0},
        "encoding": {
         "x": {"field": "t", "type": "quantitative"},
         "y": {"field": "g", "type": "nominal", "sort": ["EGFR AND PTGS2 low", "EGFR OR PTGS2 high", "EGFR AND PTGS2 high"], "axis": {"orient": "left", "title": ["No. at", "risk"], "labels": false, "ticks": false, "tickSize": 0, "offset": 59, "domain": true, "domainWidth": 1.2, "titleAngle": 0, "titleAlign": "center", "titleBaseline": "middle", "titlePadding": 3, "titleFontSize": 8.5, "titleLineHeight": 10}},
         "text": {"field": "n"}}}
      ],
      "resolve": {"axis": {"y": "independent"}}}
    ]}
  ], "spacing": 17, "resolve": {"scale": {"color": "independent", "strokeDash": "independent"}}}
 ], "spacing": 24, "resolve": {"scale": {"color": "independent", "strokeDash": "independent"}}}
]
}
